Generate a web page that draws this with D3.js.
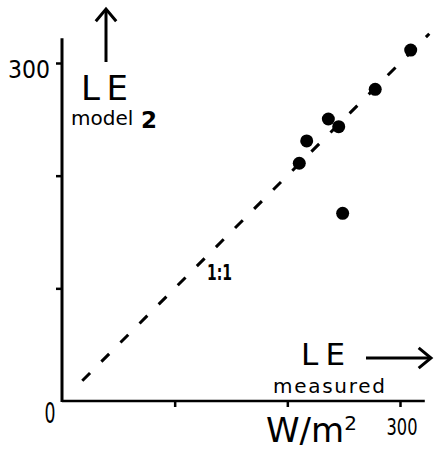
<!DOCTYPE html>
<html>
<head>
<meta charset="utf-8">
<script src="https://cdn.jsdelivr.net/npm/d3@7"></script>
<style>
  html, body { margin: 0; padding: 0; background: #fff; }
  svg { display: block; }
  text { font-family: "DejaVu Sans", sans-serif; fill: #000; }
</style>
</head>
<body>
<svg id="chart" width="434" height="449"></svg>
<script>
// Latent heat flux: measured vs. model 2 (W/m2)
const measured = [309.5, 278, 236.4, 245.6, 217.2, 210.6, 249.1];
const model2   = [311.5, 276.6, 250.3, 243.5, 230.8, 211, 166.6];
const tickValues = [100, 200, 300];
const tickLabels = ["0", "300"];
const oneToOne = [18, 326];
const axisMax = 322;

const svg = d3.select("#chart");
const x = d3.scaleLinear().domain([0, 300]).range([62, 400]);
const y = d3.scaleLinear().domain([0, 300]).range([401, 63]);

// axis lines
svg.append("line")
  .attr("x1", x(0)).attr("x2", x(0))
  .attr("y1", y(0) + 1).attr("y2", y(axisMax))
  .attr("stroke", "#000").attr("stroke-width", 3);
svg.append("line")
  .attr("x1", x(0)).attr("x2", x(axisMax))
  .attr("y1", y(0)).attr("y2", y(0))
  .attr("stroke", "#000").attr("stroke-width", 2.5);

// ticks
const xAxis = d3.axisBottom(x).tickValues(tickValues).tickSize(6).tickFormat("");
const yAxis = d3.axisLeft(y).tickValues(tickValues).tickSize(6).tickFormat("");
const gx = svg.append("g").attr("transform", `translate(0,${y(0)})`).call(xAxis);
const gy = svg.append("g").attr("transform", `translate(${x(0)},0)`).call(yAxis);
[gx, gy].forEach(g => {
  g.select(".domain").remove();
  g.selectAll(".tick line").attr("stroke", "#000").attr("stroke-width", 2.5);
});

// tick labels
svg.append("text").attr("x", x(0) - 12).attr("y", y(0) + 22)
  .attr("text-anchor", "middle").attr("font-size", 28)
  .attr("textLength", 11).attr("lengthAdjust", "spacingAndGlyphs").text(tickLabels[0]);
svg.append("text").attr("x", x(300) + 2).attr("y", y(0) + 34)
  .attr("text-anchor", "middle").attr("font-size", 23)
  .attr("textLength", 31).attr("lengthAdjust", "spacingAndGlyphs").text(tickLabels[1]);
svg.append("text").attr("x", 8).attr("y", y(300) + 15)
  .attr("font-size", 24)
  .attr("textLength", 42).attr("lengthAdjust", "spacingAndGlyphs").text(tickLabels[1]);

// 1:1 line
svg.append("line")
  .attr("x1", x(oneToOne[0])).attr("y1", y(oneToOne[0]))
  .attr("x2", x(oneToOne[1])).attr("y2", y(oneToOne[1]))
  .attr("stroke", "#000").attr("stroke-width", 3)
  .attr("stroke-dasharray", "11 16");
svg.append("text").attr("x", 207).attr("y", 280)
  .attr("font-size", 21).attr("font-weight", "bold")
  .attr("textLength", 25).attr("lengthAdjust", "spacingAndGlyphs").text("1:1");

// data points
svg.selectAll("circle.pt")
  .data(measured.map((m, i) => [m, model2[i]]))
  .join("circle")
  .attr("class", "pt")
  .attr("cx", d => x(d[0])).attr("cy", d => y(d[1]))
  .attr("r", 6.5).attr("fill", "#000");

// arrows
const arrow = (x1, y1, x2, y2, head) => {
  svg.append("line").attr("x1", x1).attr("y1", y1).attr("x2", x2).attr("y2", y2)
    .attr("stroke", "#000").attr("stroke-width", 3);
  const a = Math.atan2(y2 - y1, x2 - x1);
  const p = [a + Math.PI * 0.78, a - Math.PI * 0.78].map(t => [x2 + head * Math.cos(t), y2 + head * Math.sin(t)]);
  svg.append("path")
    .attr("d", `M${p[0][0]},${p[0][1]}L${x2},${y2}L${p[1][0]},${p[1][1]}`)
    .attr("fill", "none").attr("stroke", "#000").attr("stroke-width", 3)
    .attr("stroke-linejoin", "miter");
};
arrow(106, 62, 106, 9, 16);
arrow(366, 358, 431, 358, 16);

// axis titles
svg.append("text").attr("x", 81).attr("y", 100).attr("font-size", 34)
  .attr("textLength", 47).attr("lengthAdjust", "spacing").text("LE");
svg.append("text").attr("x", 71).attr("y", 125).attr("font-size", 20).text("model");
svg.append("text").attr("x", 141).attr("y", 128).attr("font-size", 23).attr("font-weight", "bold").text("2");

svg.append("text").attr("x", 301).attr("y", 365).attr("font-size", 31)
  .attr("textLength", 44).attr("lengthAdjust", "spacing").text("LE");
svg.append("text").attr("x", 273).attr("y", 393).attr("font-size", 20)
  .attr("textLength", 112).attr("lengthAdjust", "spacing").text("measured");

const unit = svg.append("text").attr("x", 266).attr("y", 442).attr("font-size", 34);
unit.append("tspan").text("W/m");
unit.append("tspan").attr("font-size", 20).attr("dy", -12).text("2");
</script>
</body>
</html>
